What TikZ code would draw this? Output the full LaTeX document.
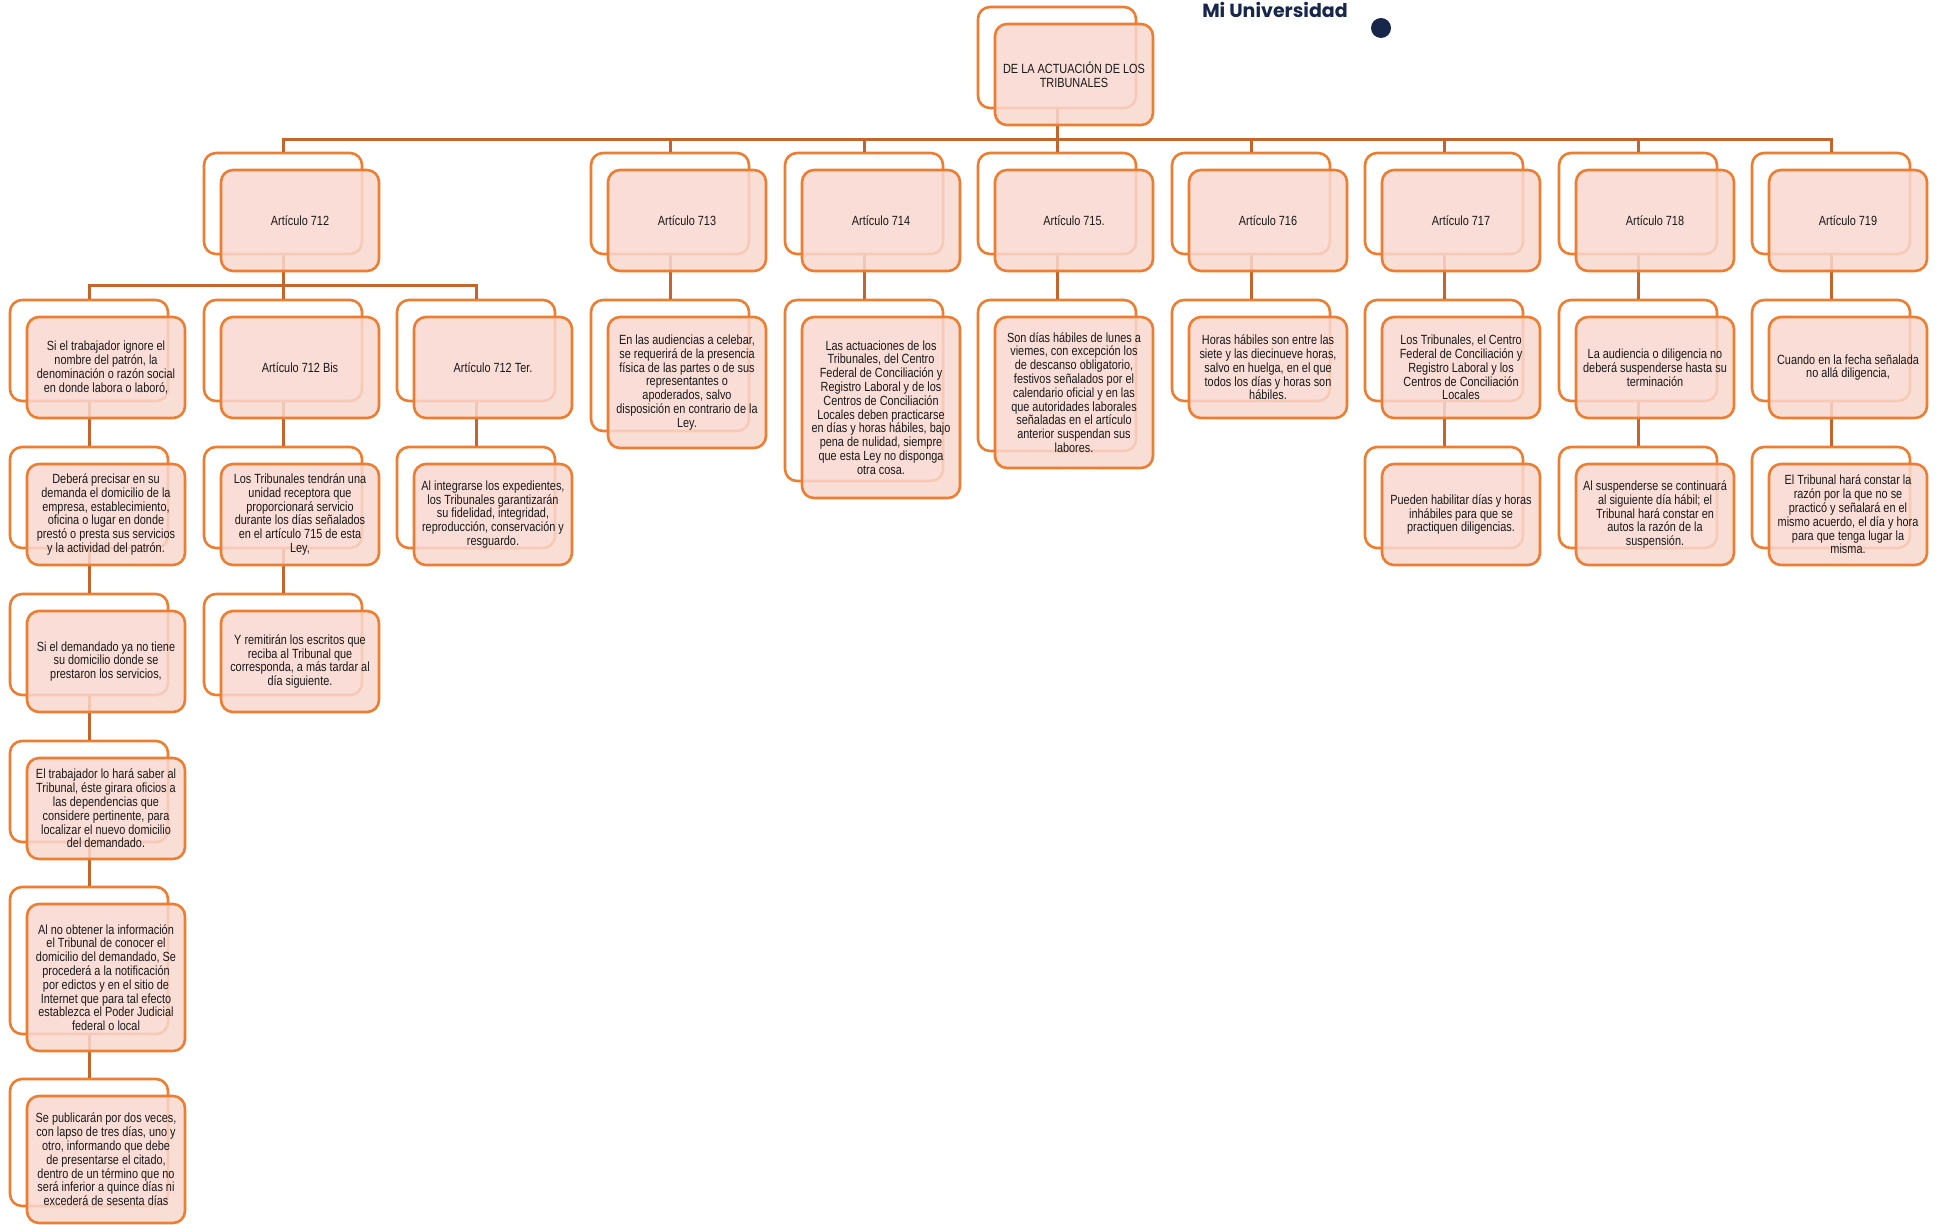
\documentclass[tikz,border=0pt]{standalone}
\usepackage{fontspec}
\setmainfont{Liberation Sans}
\newfontfamily\narrowfont[FakeStretch=0.82]{Liberation Sans}
\newfontfamily\brandfont{Poppins}
\usetikzlibrary{positioning, calc}
\definecolor{frameorange}{HTML}{ED7D31}
\definecolor{branchorange}{HTML}{C5652B}
\definecolor{cardpink}{HTML}{F8D8CF}
\definecolor{brandnavy}{HTML}{17264A}
\pgfdeclarelayer{frames}
\pgfdeclarelayer{branches}
\pgfsetlayers{frames,branches,main}

\begin{document}
\begin{tikzpicture}[x=1pt, y=-1pt,
  backframe/.style={rectangle, rounded corners=12pt, draw=frameorange, line width=2.6pt,
    fill=white, minimum width=158pt, inner sep=0pt},
  card/.style={rectangle, rounded corners=12pt, draw=frameorange, line width=2.6pt,
    fill=cardpink, fill opacity=0.85, text opacity=1, minimum width=158pt, inner sep=0pt,
    align=center, text=black!90, font=\narrowfont\fontsize{13.3}{13.8}\selectfont},
  branch/.style={draw=branchorange, line width=3pt}
]
  \useasboundingbox (0,0) rectangle (1942,1225);

  \begin{pgfonlayer}{frames}
    \foreach \n/\x/\y/\h in {root/1057/57.5/101,
      a712/283/203.5/101, a713/670/203.5/101, a714/864/203.5/101, a715/1057/203.5/101,
      a716/1251/203.5/101, a717/1444/203.5/101, a718/1638/203.5/101, a719/1831/203.5/101,
      n1/89/350.5/101, b712/283/350.5/101, t712/476/350.5/101,
      d713/670/365.5/131, d714/864/390.5/181, d715/1057/375.5/151, d716/1251/350.5/101,
      d717/1444/350.5/101, d718/1638/350.5/101, d719/1831/350.5/101,
      n2/89/497.5/101, b712c/283/497.5/101, t712c/476/497.5/101,
      e717/1444/497.5/101, e718/1638/497.5/101, e719/1831/497.5/101,
      n3/89/644.5/101, b712d/283/644.5/101,
      n4/89/791.5/101, n5/89/960.5/147, n6/89/1142.5/127}
      \node[backframe, minimum height=\h pt] (\n) at (\x,\y) {};
  \end{pgfonlayer}

  \begin{pgfonlayer}{branches}
    \foreach \n in {a712,a713,a714,a715,a716,a717,a718,a719}
      \draw[branch] (root.south) -- ++(0,30) -| (\n.north);
    \foreach \n in {n1,b712,t712}
      \draw[branch] (a712.south) -- ++(0,30) -| (\n.north);
    \foreach \p/\c in {a713/d713, a714/d714, a715/d715, a716/d716, a717/d717, a718/d718,
      a719/d719, n1/n2, n2/n3, n3/n4, n4/n5, n5/n6, b712/b712c, b712c/b712d, t712/t712c,
      d717/e717, d718/e718, d719/e719}
      \draw[branch] (\p.south) -- (\c.north);
  \end{pgfonlayer}

  \node[card, minimum height=101pt] (rootf) at ([xshift=17pt,yshift=-17pt]root.center) {DE LA ACTUACIÓN DE LOS\\TRIBUNALES};

  \node[card, minimum height=101pt] (a712f) at ([xshift=17pt,yshift=-17pt]a712.center) {Artículo 712};
  \node[card, minimum height=101pt] (a713f) at ([xshift=17pt,yshift=-17pt]a713.center) {Artículo 713};
  \node[card, minimum height=101pt] (a714f) at ([xshift=17pt,yshift=-17pt]a714.center) {Artículo 714};
  \node[card, minimum height=101pt] (a715f) at ([xshift=17pt,yshift=-17pt]a715.center) {Artículo 715.};
  \node[card, minimum height=101pt] (a716f) at ([xshift=17pt,yshift=-17pt]a716.center) {Artículo 716};
  \node[card, minimum height=101pt] (a717f) at ([xshift=17pt,yshift=-17pt]a717.center) {Artículo 717};
  \node[card, minimum height=101pt] (a718f) at ([xshift=17pt,yshift=-17pt]a718.center) {Artículo 718};
  \node[card, minimum height=101pt] (a719f) at ([xshift=17pt,yshift=-17pt]a719.center) {Artículo 719};

  \node[card, minimum height=101pt] (n1f) at ([xshift=17pt,yshift=-17pt]n1.center) {Si el trabajador ignore el\\nombre del patrón, la\\denominación o razón social\\en donde labora o laboró,};
  \node[card, minimum height=101pt] (b712f) at ([xshift=17pt,yshift=-17pt]b712.center) {Artículo 712 Bis};
  \node[card, minimum height=101pt] (t712f) at ([xshift=17pt,yshift=-17pt]t712.center) {Artículo 712 Ter.};
  \node[card, minimum height=131pt] (d713f) at ([xshift=17pt,yshift=-17pt]d713.center) {En las audiencias a celebar,\\se requerirá de la presencia\\física de las partes o de sus\\representantes o\\apoderados, salvo\\disposición en contrario de la\\Ley.};
  \node[card, minimum height=181pt] (d714f) at ([xshift=17pt,yshift=-17pt]d714.center) {Las actuaciones de los\\Tribunales, del Centro\\Federal de Conciliación y\\Registro Laboral y de los\\Centros de Conciliación\\Locales deben practicarse\\en días y horas hábiles, bajo\\pena de nulidad, siempre\\que esta Ley no disponga\\otra cosa.};
  \node[card, minimum height=151pt] (d715f) at ([xshift=17pt,yshift=-17pt]d715.center) {Son días hábiles de lunes a\\viemes, con excepción los\\de descanso obligatorio,\\festivos señalados por el\\calendario oficial y en las\\que autoridades laborales\\señaladas en el artículo\\anterior suspendan sus\\labores.};
  \node[card, minimum height=101pt] (d716f) at ([xshift=17pt,yshift=-17pt]d716.center) {Horas hábiles son entre las\\siete y las diecinueve horas,\\salvo en huelga, en el que\\todos los días y horas son\\hábiles.};
  \node[card, minimum height=101pt] (d717f) at ([xshift=17pt,yshift=-17pt]d717.center) {Los Tribunales, el Centro\\Federal de Conciliación y\\Registro Laboral y los\\Centros de Conciliación\\Locales};
  \node[card, minimum height=101pt] (d718f) at ([xshift=17pt,yshift=-17pt]d718.center) {La audiencia o diligencia no\\deberá suspenderse hasta su\\terminación};
  \node[card, minimum height=101pt] (d719f) at ([xshift=17pt,yshift=-17pt]d719.center) {Cuando en la fecha señalada\\no allá diligencia,};

  \node[card, minimum height=101pt] (n2f) at ([xshift=17pt,yshift=-17pt]n2.center) {Deberá precisar en su\\demanda el domicilio de la\\empresa, establecimiento,\\oficina o lugar en donde\\prestó o presta sus servicios\\y la actividad del patrón.};
  \node[card, minimum height=101pt] (b712cf) at ([xshift=17pt,yshift=-17pt]b712c.center) {Los Tribunales tendrán una\\unidad receptora que\\proporcionará servicio\\durante los días señalados\\en el artículo 715 de esta\\Ley,};
  \node[card, minimum height=101pt] (t712cf) at ([xshift=17pt,yshift=-17pt]t712c.center) {Al integrarse los expedientes,\\los Tribunales garantizarán\\su fidelidad, integridad,\\reproducción, conservación y\\resguardo.};
  \node[card, minimum height=101pt] (e717f) at ([xshift=17pt,yshift=-17pt]e717.center) {Pueden habilitar días y horas\\inhábiles para que se\\practiquen diligencias.};
  \node[card, minimum height=101pt] (e718f) at ([xshift=17pt,yshift=-17pt]e718.center) {Al suspenderse se continuará\\al siguiente día hábil; el\\Tribunal hará constar en\\autos la razón de la\\suspensión.};
  \node[card, minimum height=101pt] (e719f) at ([xshift=17pt,yshift=-17pt]e719.center) {El Tribunal hará constar la\\razón por la que no se\\practicó y señalará en el\\mismo acuerdo, el día y hora\\para que tenga lugar la\\misma.};

  \node[card, minimum height=101pt] (n3f) at ([xshift=17pt,yshift=-17pt]n3.center) {Si el demandado ya no tiene\\su domicilio donde se\\prestaron los servicios,};
  \node[card, minimum height=101pt] (b712df) at ([xshift=17pt,yshift=-17pt]b712d.center) {Y remitirán los escritos que\\reciba al Tribunal que\\corresponda, a más tardar al\\día siguiente.};
  \node[card, minimum height=101pt] (n4f) at ([xshift=17pt,yshift=-17pt]n4.center) {El trabajador lo hará saber al\\Tribunal, éste girara oficios a\\las dependencias que\\considere pertinente, para\\localizar el nuevo domicilio\\del demandado.};
  \node[card, minimum height=147pt] (n5f) at ([xshift=17pt,yshift=-17pt]n5.center) {Al no obtener la información\\el Tribunal de conocer el\\domicilio del demandado, Se\\procederá a la notificación\\por edictos y en el sitio de\\Internet que para tal efecto\\establezca el Poder Judicial\\federal o local};
  \node[card, minimum height=127pt] (n6f) at ([xshift=17pt,yshift=-17pt]n6.center) {Se publicarán por dos veces,\\con lapso de tres días, uno y\\otro, informando que debe\\de presentarse el citado,\\dentro de un término que no\\será inferior a quince días ni\\excederá de sesenta días};

  \node[font=\brandfont\bfseries\fontsize{19}{20}\selectfont, text=brandnavy, anchor=base] (brand) at (1275,18) {Mi Universidad};
  \node[circle, fill=brandnavy, minimum size=20pt, inner sep=0pt] (dot) at (1381,28) {};
\end{tikzpicture}
\end{document}
